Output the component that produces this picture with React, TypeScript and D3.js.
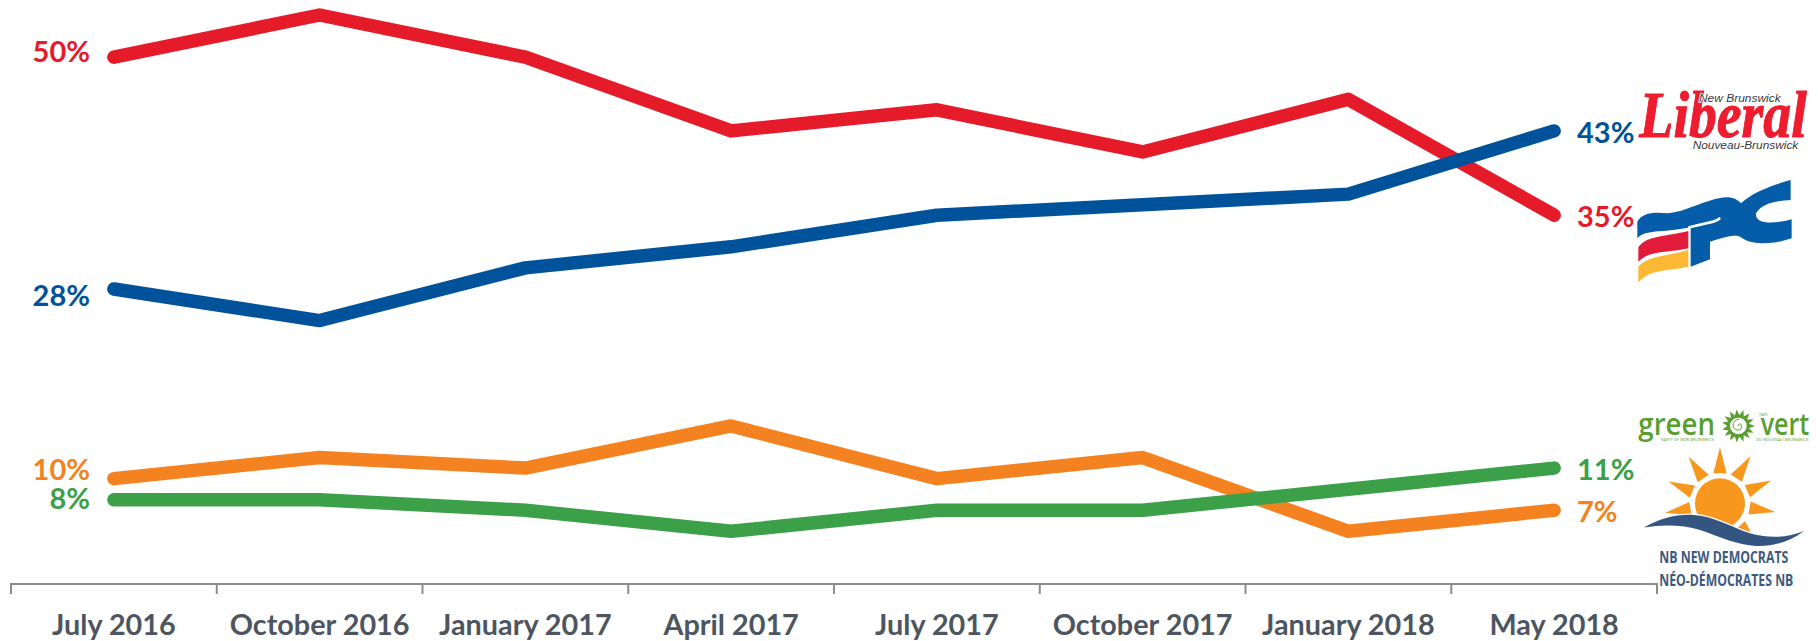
import React from "react";
import * as d3 from "d3";

const months = ["July 2016","October 2016","January 2017","April 2017","July 2017","October 2017","January 2018","May 2018"];
const liberal = [50,54,50,43,45,41,46,35];
const pc = [28,25,30,32,35,36,37,43];
const ndp = [10,12,11,15,10,12,5,7];
const green = [8,8,7,5,7,7,9,11];

const RED="#e51b2a", BLUE="#00529b", ORANGE="#f58220", GREEN="#3ba047";
const FONT="Lato, Carlito, sans-serif";

const x = d3.scaleBand<string>().domain(months).range([11,1657]);
const y = d3.scaleLinear().domain([0,54]).range([584,15]);
const line = d3.line<number>().x((_,i)=>(x(months[i]) as number)+x.bandwidth()/2).y(d=>y(d));

const series = [
  {name:"Liberal",values:liberal,color:RED,leftShift:-5},
  {name:"PC",values:pc,color:BLUE,leftShift:7},
  {name:"NDP",values:ndp,color:ORANGE,leftShift:-9},
  {name:"Green",values:green,color:GREEN,leftShift:-1},
];

function sunRay(cx:number,cy:number,angle:number,r0:number,r1:number,w:number){
  const a=angle*Math.PI/180, px=Math.cos(a), py=Math.sin(a);
  return `M${cx+px*r0-py*w},${cy+py*r0+px*w}L${cx+px*r1},${cy+py*r1}L${cx+px*r0+py*w},${cy+py*r0-px*w}Z`;
}
const rayAngles=[-90,-57,-124,-24,-157,9,170,48];
const frondAngles=d3.range(0,360,24);
const WAVE="M282,413C330,385 380,372 430,375C490,378 540,410 600,430C650,445 710,445 762,423C720,455 670,470 620,468C560,465 510,440 450,420C400,405 340,403 282,413Z";

function Logos(){
  return (
    <g transform="translate(1550,60) scale(0.3333)">
      {/* Liberal */}
      <text x={268} y={230} fontFamily="'Liberation Serif',serif" fontStyle="italic" fontWeight={700} fontSize={196} fill="#ed1c2e" stroke="#ed1c2e" strokeWidth={3} textLength={502} lengthAdjust="spacingAndGlyphs">Liberal</text>
      <text x={447} y={125} fontFamily="'Liberation Sans',sans-serif" fontStyle="italic" fontWeight={400} fontSize={33} fill="#3a3a3a" stroke="#fff" strokeWidth={5} paintOrder="stroke" textLength={245} lengthAdjust="spacingAndGlyphs">New Brunswick</text>
      <text x={428} y={268} fontFamily="'Liberation Sans',sans-serif" fontStyle="italic" fontWeight={400} fontSize={33} fill="#3a3a3a" textLength={317} lengthAdjust="spacingAndGlyphs">Nouveau-Brunswick</text>
      {/* PC */}
      <g transform="translate(240,330)">
        <path fill="#055ca8" d="M22,155C35,130 70,125 110,130C160,130 230,85 290,82C310,82 325,90 333,100C370,65 430,45 482,30L482,90C440,92 395,100 378,130C375,160 420,165 485,148L485,205C430,225 365,225 335,203C320,193 300,197 240,215L240,268L182,290L182,172C90,190 45,178 22,205Z"/>
        <path fill="none" stroke="#fff" strokeWidth={8} strokeLinecap="round" d="M178,172L250,155Q264,151 268,146"/>
        <path fill="#e31b3a" d="M25,232C50,195 110,200 175,183L175,235C110,250 60,240 25,275Z"/>
        <path fill="#fdb933" d="M25,290C55,255 110,260 175,240L175,290C110,305 60,295 25,338Z"/>
      </g>
      <g transform="translate(0,990)">
        {/* Green */}
        <text x={265} y={135} fontFamily="'Open Sans',sans-serif" fontWeight={600} fontSize={93} fill="#5a9e2f" textLength={230} lengthAdjust="spacingAndGlyphs">green</text>
        <text x={632} y={135} fontFamily="'Open Sans',sans-serif" fontWeight={600} fontSize={93} fill="#5a9e2f" textLength={146} lengthAdjust="spacingAndGlyphs">vert</text>
        <text x={332} y={152} fontFamily="'Open Sans',sans-serif" fontWeight={400} fontSize={10} fill="#5a9e2f" textLength={160} lengthAdjust="spacingAndGlyphs">PARTY OF NEW BRUNSWICK</text>
        <text x={618} y={152} fontFamily="'Open Sans',sans-serif" fontWeight={400} fontSize={10} fill="#5a9e2f" textLength={158} lengthAdjust="spacingAndGlyphs">DU NOUVEAU BRUNSWICK</text>
        <text x={628} y={78} fontFamily="'Open Sans',sans-serif" fontWeight={400} fontSize={10} fill="#5a9e2f">PARTI</text>
        {frondAngles.map(a=><path key={a} fill="#5a9e2f" d={sunRay(565,108,a,18,50,12)}/>)}
        <circle cx={565} cy={108} r={25} fill="#fff"/>
        <path fill="none" stroke="#5a9e2f" strokeWidth={3} d="M565,108a5,5 0 0 1 8,-5a11,11 0 0 1 -4,17a16,16 0 0 1 -20,-12a19,19 0 0 1 18,-20"/>
        {/* NDP */}
        {rayAngles.map(a=><path key={a} fill="#f7971d" d={sunRay(510,340,a,90,168,20)}/>)}
        <circle cx={510} cy={340} r={75} fill="#f7971d"/>
        <path fill="#fff" stroke="#fff" strokeWidth={8} d={WAVE}/>
        <path fill="#34557f" d={WAVE}/>
        <text x={328} y={520} fontFamily="'Open Sans',sans-serif" fontWeight={700} fontSize={46} fill="#3c5a80" textLength={387} lengthAdjust="spacingAndGlyphs">NB NEW DEMOCRATS</text>
        <text x={328} y={588} fontFamily="'Open Sans',sans-serif" fontWeight={700} fontSize={46} fill="#3c5a80" textLength={402} lengthAdjust="spacingAndGlyphs">NÉO-DÉMOCRATES NB</text>
      </g>
    </g>
  );
}

export default function App(){
  const ticks=[...months.map(m=>x(m) as number),1657];
  return (
    <svg width={1818} height={641} style={{position:"absolute",left:0,top:0,background:"#fff"}} fontFamily={FONT} fontWeight={700}>
      <path d={`M${x.range()[0]},584H${x.range()[1]}`} stroke="#8c8c8c" strokeWidth={2} fill="none"/>
      {ticks.map((t,i)=><line key={i} x1={t} x2={t} y1={583} y2={594} stroke="#8c8c8c" strokeWidth={2}/>)}
      {months.map(m=>(
        <text key={m} x={(x(m) as number)+x.bandwidth()/2} y={635} textAnchor="middle" fontSize={28.8} fill="#4d5660">{m}</text>
      ))}
      {series.map(s=>(
        <g key={s.name}>
          <path d={line(s.values) as string} fill="none" stroke={s.color} strokeWidth={13.5} strokeLinecap="round" strokeLinejoin="round"/>
          <text x={90} y={y(s.values[0])+s.leftShift+10} textAnchor="end" fontSize={29} fill={s.color}>{s.values[0]}%</text>
          <text x={1577} y={y(s.values[7])+12} fontSize={29} fill={s.color}>{s.values[7]}%</text>
        </g>
      ))}
      <Logos/>
    </svg>
  );
}
